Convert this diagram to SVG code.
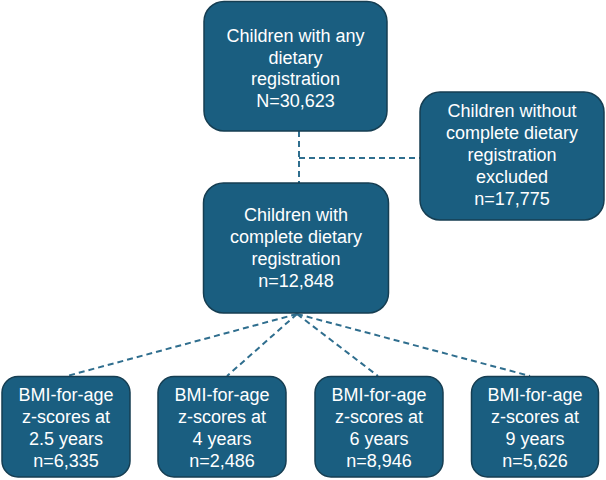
<svg xmlns="http://www.w3.org/2000/svg" width="606" height="480" viewBox="0 0 606 480">
<style>
.box{fill:#1A5E80;stroke:#163E52;stroke-width:1.5}
.t{font-family:"Liberation Sans",Arial,sans-serif;font-size:18px;fill:#FFFFFF;text-anchor:middle}
.c{fill:none;stroke:#2F6E8E;stroke-width:2;stroke-dasharray:6 4}
</style>
<rect width="606" height="480" fill="#FFFFFF"/>
<g id="connectors">
<line class="c" x1="299" y1="131" x2="299" y2="183"/>
<line class="c" x1="299" y1="158" x2="420" y2="158"/>
<line class="c" x1="297" y1="314" x2="67" y2="376"/>
<line class="c" x1="297" y1="314" x2="227" y2="376"/>
<line class="c" x1="297" y1="314" x2="378" y2="376"/>
<line class="c" x1="297" y1="314" x2="530" y2="376"/>
</g>
<g id="n_any">
<rect class="box" x="204" y="1.5" width="183" height="129.5" rx="20"/>
<text class="t" x="295.5" y="42">Children with any</text>
<text class="t" x="295.5" y="63.5">dietary</text>
<text class="t" x="295.5" y="85">registration</text>
<text class="t" x="295.5" y="106.5">N=30,623</text>
</g>
<g id="n_excluded">
<rect class="box" x="420" y="92" width="184" height="128" rx="20"/>
<text class="t" x="512" y="117">Children without</text>
<text class="t" x="512" y="139">complete dietary</text>
<text class="t" x="512" y="161">registration</text>
<text class="t" x="512" y="183">excluded</text>
<text class="t" x="512" y="205">n=17,775</text>
</g>
<g id="n_complete">
<rect class="box" x="203.5" y="183" width="185" height="130" rx="20"/>
<text class="t" x="296" y="221">Children with</text>
<text class="t" x="296" y="243">complete dietary</text>
<text class="t" x="296" y="265">registration</text>
<text class="t" x="296" y="287">n=12,848</text>
</g>
<g id="n_25y">
<rect class="box" x="2" y="376.5" width="128" height="100.5" rx="16"/>
<text class="t" x="66" y="401">BMI-for-age</text>
<text class="t" x="66" y="423">z-scores at</text>
<text class="t" x="66" y="445">2.5 years</text>
<text class="t" x="66" y="467">n=6,335</text>
</g>
<g id="n_4y">
<rect class="box" x="158" y="376.5" width="128" height="100.5" rx="16"/>
<text class="t" x="222" y="401">BMI-for-age</text>
<text class="t" x="222" y="423">z-scores at</text>
<text class="t" x="222" y="445">4 years</text>
<text class="t" x="222" y="467">n=2,486</text>
</g>
<g id="n_6y">
<rect class="box" x="315" y="376.5" width="128" height="100.5" rx="16"/>
<text class="t" x="379" y="401">BMI-for-age</text>
<text class="t" x="379" y="423">z-scores at</text>
<text class="t" x="379" y="445">6 years</text>
<text class="t" x="379" y="467">n=8,946</text>
</g>
<g id="n_9y">
<rect class="box" x="471.5" y="376.5" width="127" height="100.5" rx="16"/>
<text class="t" x="535" y="401">BMI-for-age</text>
<text class="t" x="535" y="423">z-scores at</text>
<text class="t" x="535" y="445">9 years</text>
<text class="t" x="535" y="467">n=5,626</text>
</g>
</svg>
